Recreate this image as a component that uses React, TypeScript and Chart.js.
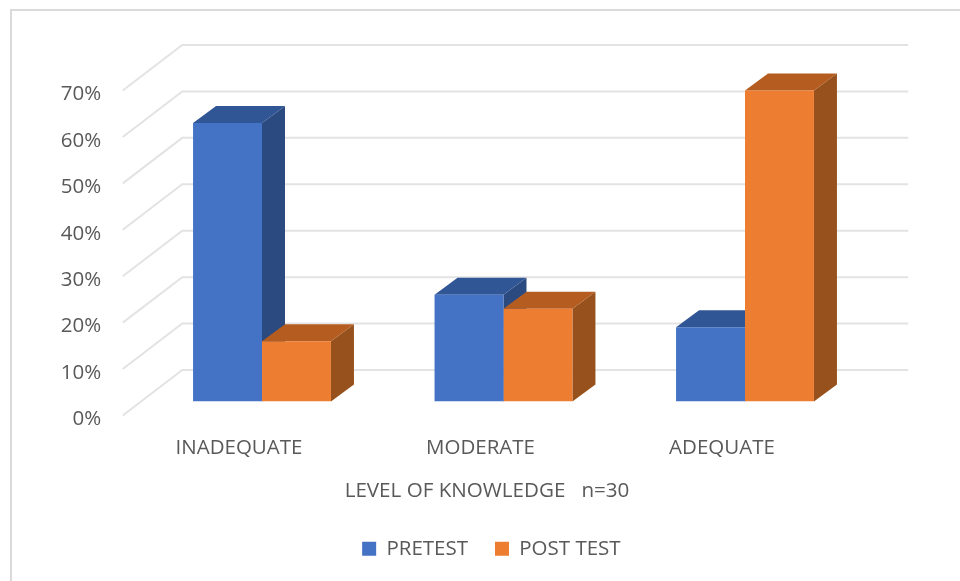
import React, { useEffect, useRef } from "react";
import { Chart, registerables } from "chart.js";

Chart.register(...registerables);

const categories = ["INADEQUATE", "MODERATE", "ADEQUATE"];
const pretest = [60, 23, 16];
const posttest = [13, 20, 67];
const axisTitle = "LEVEL OF KNOWLEDGE   n=30";
const TEXT = "#595959";
const FONT = "'Open Sans', sans-serif";

const frontColors = ["#4472C4", "#ED7D31"];
const topColors = ["#315695", "#B55D20"];
const sideColors = ["#2A4A80", "#97511C"];

const gridAndBox = {
  id: "gridAndBox",
  afterLayout(chart: any) {
    // centre the legend under the whole picture rather than the padded box
    chart.legend.left += 46.5;
    chart.legend.right += 46.5;
  },
  beforeDatasetsDraw(chart: any) {
    const { ctx, chartArea, scales } = chart;
    const y = scales.y;
    ctx.save();
    // outer frame
    ctx.strokeStyle = "#DADADA";
    ctx.lineWidth = 2;
    ctx.beginPath();
    ctx.moveTo(11, 581);
    ctx.lineTo(11, 10);
    ctx.lineTo(960, 10);
    ctx.stroke();
    // walls
    ctx.strokeStyle = "#E3E3E3";
    ctx.lineWidth = 2;
    y.ticks.forEach((t: any) => {
      const p = y.getPixelForValue(t.value);
      ctx.beginPath();
      ctx.moveTo(chartArea.left - 18.5, p + 14);
      ctx.lineTo(chartArea.left + 41, p - 31.5);
      ctx.lineTo(chartArea.right + 42.5, p - 31.5);
      ctx.stroke();
    });
    // bar depth faces
    const dx = 23;
    const dy = 17;
    chart.data.datasets.forEach((_: any, d: number) => {
      const meta = chart.getDatasetMeta(d);
      meta.data.forEach((bar: any) => {
        const l = bar.x - bar.width / 2;
        const r = bar.x + bar.width / 2;
        ctx.fillStyle = sideColors[d];
        ctx.beginPath();
        ctx.moveTo(r, bar.y);
        ctx.lineTo(r + dx, bar.y - dy);
        ctx.lineTo(r + dx, bar.base - dy);
        ctx.lineTo(r, bar.base);
        ctx.closePath();
        ctx.fill();
        ctx.fillStyle = topColors[d];
        ctx.beginPath();
        ctx.moveTo(l, bar.y);
        ctx.lineTo(l + dx, bar.y - dy);
        ctx.lineTo(r + dx, bar.y - dy);
        ctx.lineTo(r, bar.y);
        ctx.closePath();
        ctx.fill();
      });
    });
    ctx.restore();
  },
  afterDraw(chart: any) {
    const { ctx } = chart;
    ctx.save();
    ctx.fillStyle = TEXT;
    ctx.font = `20.6px ${FONT}`;
    ctx.textAlign = "center";
    ctx.textBaseline = "middle";
    ctx.fillText(axisTitle, 487, 491);
    ctx.restore();
  },
};

export default function App() {
  const ref = useRef<HTMLCanvasElement>(null);
  useEffect(() => {
    const chart = new Chart(ref.current!, {
      type: "bar",
      plugins: [gridAndBox],
      data: {
        labels: categories,
        datasets: [
          { label: "PRETEST", data: pretest, backgroundColor: frontColors[0] },
          { label: "POST TEST", data: posttest, backgroundColor: frontColors[1] },
        ],
      },
      options: {
        responsive: false,
        animation: false,
        layout: { padding: { left: 24, top: 76.5, right: 94.25, bottom: 12 } },
        categoryPercentage: 0.571,
        barPercentage: 1,
        scales: {
          x: {
            grid: { display: false },
            border: { display: false },
            afterFit(s: any) {
              s.height = 110;
            },
            ticks: {
              color: TEXT,
              font: { family: FONT, size: 20.5 },
              labelOffset: -23,
              padding: 26,
              maxRotation: 0,
            },
          },
          y: {
            min: 0,
            max: 70,
            grid: { display: false },
            border: { display: false },
            afterFit(s: any) {
              s.width = 117.25;
            },
            ticks: {
              stepSize: 10,
              color: TEXT,
              font: { family: FONT, size: 20.5 },
              labelOffset: 18,
              padding: 32,
              callback: (v: any) => `${v}%`,
            },
          },
        },
        plugins: {
          tooltip: { enabled: false },
          legend: {
            position: "bottom",
            labels: {
              color: TEXT,
              font: { family: FONT, size: 20.5 },
              boxWidth: 14,
              boxHeight: 14,
              padding: 27,
            },
          },
        },
      } as any,
    });
    return () => chart.destroy();
  }, []);
  return (
    <canvas
      ref={ref}
      width={960}
      height={581}
      style={{ position: "absolute", left: 0, top: 0, display: "block", filter: "blur(0.5px)" }}
    />
  );
}
